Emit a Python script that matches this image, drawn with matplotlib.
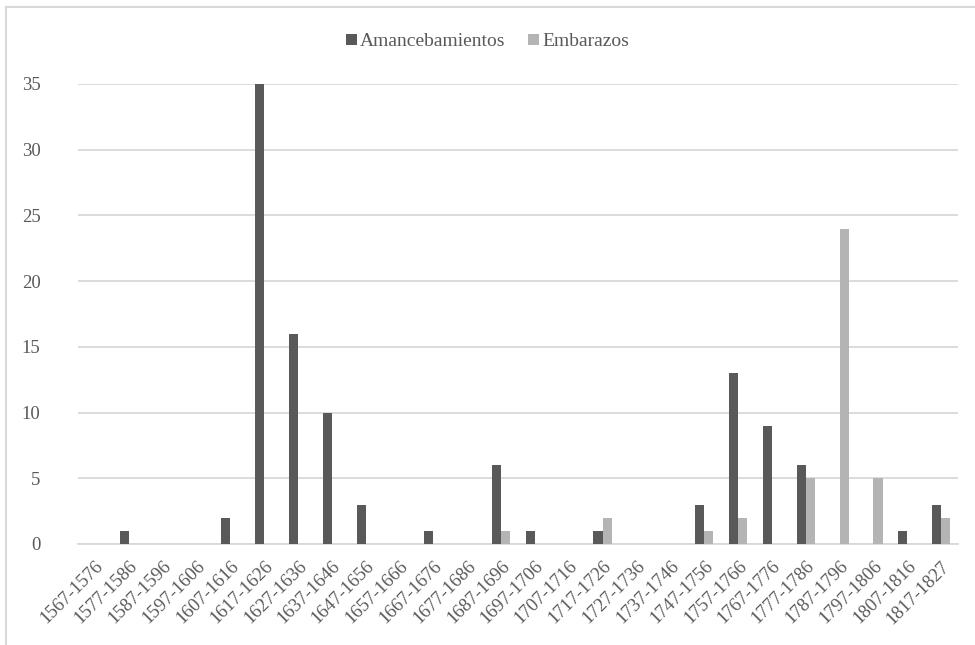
import matplotlib.pyplot as plt
import numpy as np
from matplotlib.lines import Line2D

plt.rcParams['font.family'] = ['Liberation Serif', 'DejaVu Serif']

periodos = ['1567-1576', '1577-1586', '1587-1596', '1597-1606', '1607-1616',
            '1617-1626', '1627-1636', '1637-1646', '1647-1656', '1657-1666',
            '1667-1676', '1677-1686', '1687-1696', '1697-1706', '1707-1716',
            '1717-1726', '1727-1736', '1737-1746', '1747-1756', '1757-1766',
            '1767-1776', '1777-1786', '1787-1796', '1797-1806', '1807-1816',
            '1817-1827']
amancebamientos = [0, 1, 0, 0, 2, 35, 16, 10, 3, 0, 1, 0, 6, 1, 0, 1, 0, 0,
                   3, 13, 9, 6, 0, 0, 1, 3]
embarazos = [0, 0, 0, 0, 0, 0, 0, 0, 0, 0, 0, 0, 1, 0, 0, 2, 0, 0,
             1, 2, 0, 5, 24, 5, 0, 2]

oscuro = '#595959'
claro = '#b4b4b4'
texto = '#595959'

fig = plt.figure(figsize=(9.75, 6.45), dpi=100)
ax = fig.add_axes([0.08, 0.1566, 0.9026, 0.7132])

x = np.arange(len(periodos))
w = 0.27
ax.bar(x - w / 2, amancebamientos, w, color=oscuro, label='Amancebamientos', zorder=3)
ax.bar(x + w / 2, embarazos, w, color=claro, label='Embarazos', zorder=3)

ax.set_xlim(-0.5, len(periodos) - 0.5)
ax.set_ylim(0, 35)
ax.set_yticks(range(0, 36, 5))
ax.yaxis.grid(True, color='#d9d9d9', linewidth=1.3, zorder=0)
ax.set_axisbelow(True)
for s in ['top', 'right', 'left']:
    ax.spines[s].set_visible(False)
ax.spines['bottom'].set_color('#d9d9d9')
ax.spines['bottom'].set_linewidth(1.3)
ax.tick_params(axis='both', length=0, colors=texto)
ax.tick_params(axis='y', pad=27, labelsize=13.5)
ax.set_xticks(x)
ax.set_xticklabels(periodos, rotation=45, ha='right', va='top',
                   rotation_mode='anchor')
ax.tick_params(axis='x', pad=10, labelsize=13.5)

leg = fig.legend(loc='center', bbox_to_anchor=(0.5, 0.935), ncol=2, frameon=False,
                 fontsize=14, handlelength=0.55, handleheight=0.55,
                 handletextpad=0.15, columnspacing=1.2)
for t in leg.get_texts():
    t.set_color(texto)

# marco gris del gráfico
fig.add_artist(Line2D([0.006, 0.006], [0, 0.989], color='#d9d9d9', linewidth=1.5))
fig.add_artist(Line2D([0.006, 1.0], [0.989, 0.989], color='#d9d9d9', linewidth=1.5))

fig.savefig('out.png', dpi=100)
